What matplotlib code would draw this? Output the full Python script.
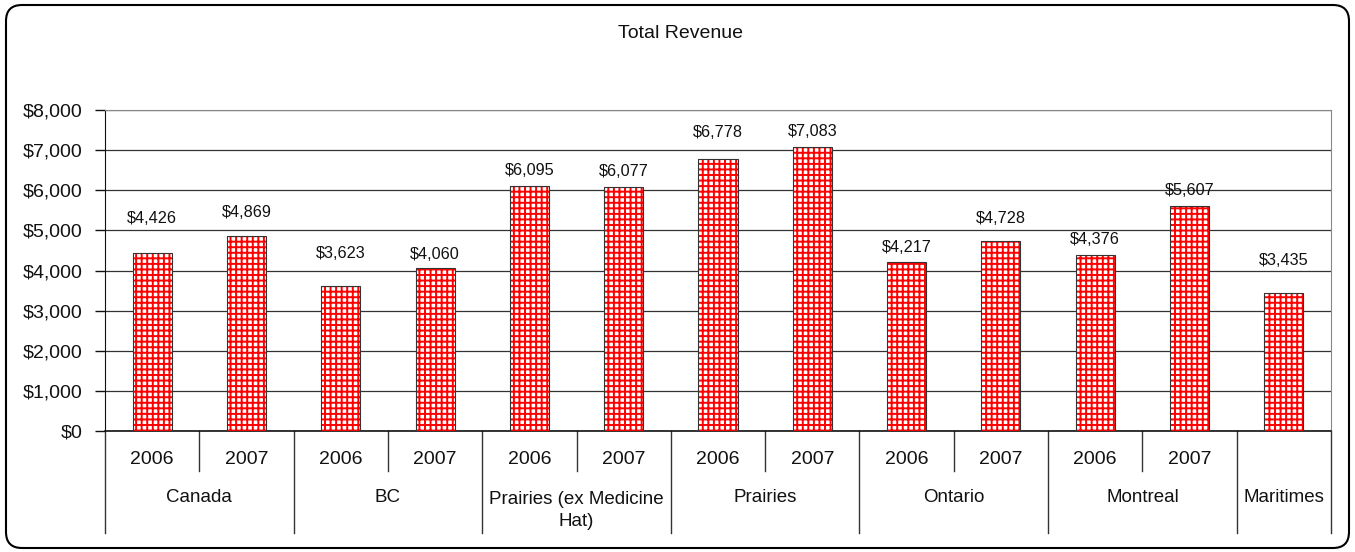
import matplotlib
matplotlib.use("Agg")
import matplotlib.pyplot as plt
import matplotlib.transforms as mtransforms
from matplotlib.patches import FancyBboxPatch
from matplotlib.ticker import FuncFormatter, MultipleLocator

plt.rcParams["font.family"] = ["Liberation Sans", "DejaVu Sans"]
plt.rcParams["hatch.linewidth"] = 1.4

# ---------------------------------------------------------------
# data
# ---------------------------------------------------------------
regions = ["Canada", "BC", "Prairies (ex Medicine\nHat)", "Prairies",
           "Ontario", "Montreal", "Maritimes"]
region_years = [["2006", "2007"], ["2006", "2007"], ["2006", "2007"],
                ["2006", "2007"], ["2006", "2007"], ["2006", "2007"], [""]]
revenue = [4426, 4869, 3623, 4060, 6095, 6077, 6778, 7083,
           4217, 4728, 4376, 5607, 3435]

# how far (px) each value label sits above its bar in the source
label_lift = [35, 23, 32, 14, 16, 16, 27, 15, 14, 23, 16, 16, 33]

# ---------------------------------------------------------------
# figure / axes
# ---------------------------------------------------------------
fig = plt.figure(figsize=(13.55, 5.52), dpi=100)
ax = fig.add_axes([0.0775, 0.2192, 0.9048, 0.5815])

x = list(range(len(revenue)))
bar_w = 0.414

# red grid fill, then thin dark outline on top
ax.bar(x, revenue, width=bar_w, color="white", edgecolor="#ff0000",
       hatch="+++", linewidth=0, zorder=3)
ax.bar(x, revenue, width=bar_w, color="none", edgecolor="#333333",
       linewidth=0.8, zorder=4)

for xi, v, lift in zip(x, revenue, label_lift):
    ax.annotate(f"${v:,}", (xi, v), xytext=(0, lift),
                textcoords="offset pixels", ha="center", va="center",
                fontsize=11.7, color="#111111", zorder=5)

ax.set_xlim(-0.5, len(revenue) - 0.5)
ax.set_ylim(0, 8000)
ax.yaxis.set_major_locator(MultipleLocator(1000))
ax.yaxis.set_major_formatter(FuncFormatter(lambda v, p: f"${v:,.0f}"))
ax.tick_params(axis="y", direction="out", length=7, width=1,
               labelsize=14, pad=9, colors="#111111")
ax.set_xticks([])

ax.grid(axis="y", color="#333333", linewidth=0.9, zorder=1)
ax.set_axisbelow(True)
for s in ("top", "right"):
    ax.spines[s].set_color("#888888")
ax.spines["left"].set_color("#111111")
ax.spines["bottom"].set_color("#111111")
ax.spines["bottom"].set_linewidth(1.2)

# ---------------------------------------------------------------
# two-level category axis
# ---------------------------------------------------------------
trans = mtransforms.blended_transform_factory(ax.transData, ax.transAxes)
line_kw = dict(transform=trans, clip_on=False, color="#333333", linewidth=1.0)

pos = 0
ax.plot([-0.5, -0.5], [0, -0.318], **line_kw)
for region, yrs in zip(regions, region_years):
    n = len(yrs)
    for k, yr in enumerate(yrs):
        if yr:
            ax.text(pos + k, -0.0903, yr, transform=trans, ha="center",
                    va="center", fontsize=14, color="#111111")
        if k < n - 1:
            ax.plot([pos + k + 0.5] * 2, [0, -0.1246], **line_kw)
    centre = pos + (n - 1) / 2
    if "\n" in region:
        ax.text(centre, -0.2477, region, transform=trans, ha="center",
                va="center", fontsize=13.5, linespacing=1.45, color="#111111")
    else:
        ax.text(centre, -0.2087, region, transform=trans, ha="center",
                va="center", fontsize=13.5, color="#111111")
    pos += n
    ax.plot([pos - 0.5] * 2, [0, -0.318], **line_kw)

# title and rounded chart border
fig.text(680 / 1355, 1 - 33.5 / 552, "Total Revenue", ha="center",
         va="center", fontsize=14, color="#111111")
fig.add_artist(FancyBboxPatch((6, 4), 1343, 543,
                              boxstyle="round,pad=0,rounding_size=16",
                              transform=mtransforms.IdentityTransform(),
                              facecolor="none", edgecolor="black",
                              linewidth=1.5))

fig.savefig("out.png", dpi=100)
